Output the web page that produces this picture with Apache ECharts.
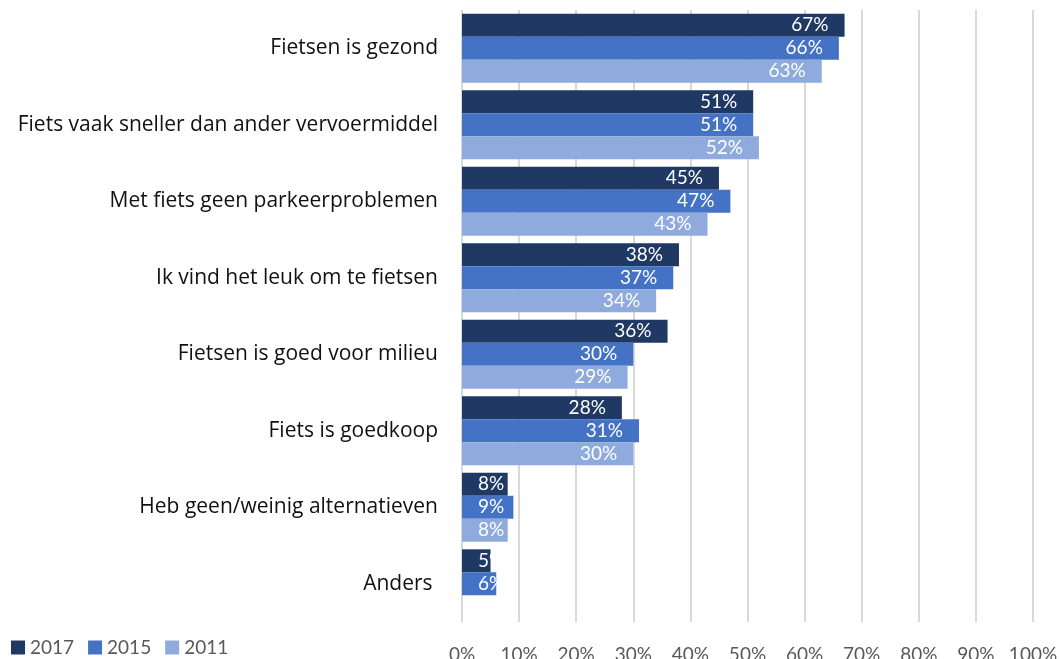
<!DOCTYPE html>
<html>
<head>
<meta charset="utf-8">
<script src="https://cdn.jsdelivr.net/npm/echarts@6/dist/echarts.min.js"></script>
<style>
  html, body { margin: 0; padding: 0; background: #fff; }
  #chart { width: 1060px; height: 659px; }
</style>
</head>
<body>
<div id="chart"></div>
<script>
var categories = [
    'Fietsen is gezond',
    'Fiets vaak sneller dan ander vervoermiddel',
    'Met fiets geen parkeerproblemen',
    'Ik vind het leuk om te fietsen',
    'Fietsen is goed voor milieu',
    'Fiets is goedkoop',
    'Heb geen/weinig alternatieven',
    'Anders '
];
var years = ['2017', '2015', '2011'];
var v2017 = [67, 51, 45, 38, 36, 28, 8, 5];
var v2015 = [66, 51, 47, 37, 30, 31, 9, 6];
var v2011 = [63, 52, 43, 34, 29, 30, 8, null];
var colors = ['#203864', '#4472C4', '#8FAADC'];

var font = 'Lato';

function makeData(vals){
    return vals.map(v => {
        if(v == null) return null;
        if(v < 10){
            return {value: v, label: {position: 'insideLeft', distance: 16}};
        }
        return v;
    });
}

var seriesData = [v2017, v2015, v2011];

const option = {
    animation: false,
    grid: {left: 462, right: 27, top: 10, bottom: 37, outerBoundsMode: 'none'},
    legend: {
        left: 6,
        bottom: -3,
        icon: 'rect',
        itemWidth: 14,
        itemHeight: 14,
        itemGap: 14,
        textStyle: {color: '#595959', fontSize: 19, fontFamily: font}
    },
    xAxis: {
        type: 'value',
        min: 0,
        max: 100,
        interval: 10,
        axisLine: {show: false},
        axisTick: {show: false},
        axisLabel: {
            formatter: '{value}%',
            color: '#595959',
            fontSize: 19,
            fontFamily: font,
            margin: 23
        },
        splitLine: {lineStyle: {color: '#d9d9d9', width: 2}}
    },
    yAxis: {
        type: 'category',
        inverse: true,
        data: categories,
        axisLine: {show: false},
        axisTick: {show: false},
        axisLabel: {color: '#111', fontSize: 21, fontFamily: 'Open Sans', margin: 24}
    },
    series: years.map((y, i) => ({
        name: y,
        type: 'bar',
        data: makeData(seriesData[i]),
        barGap: '0%',
        barCategoryGap: '10%',
        itemStyle: {color: colors[i]},
        label: {
            show: true,
            position: 'insideRight',
            distance: 16,
            formatter: '{c}%',
            color: '#fff',
            fontSize: 19,
            fontFamily: font
        }
    }))
};

const mychart = echarts.init(document.getElementById('chart'));
mychart.setOption(option);
</script>
</body>
</html>
